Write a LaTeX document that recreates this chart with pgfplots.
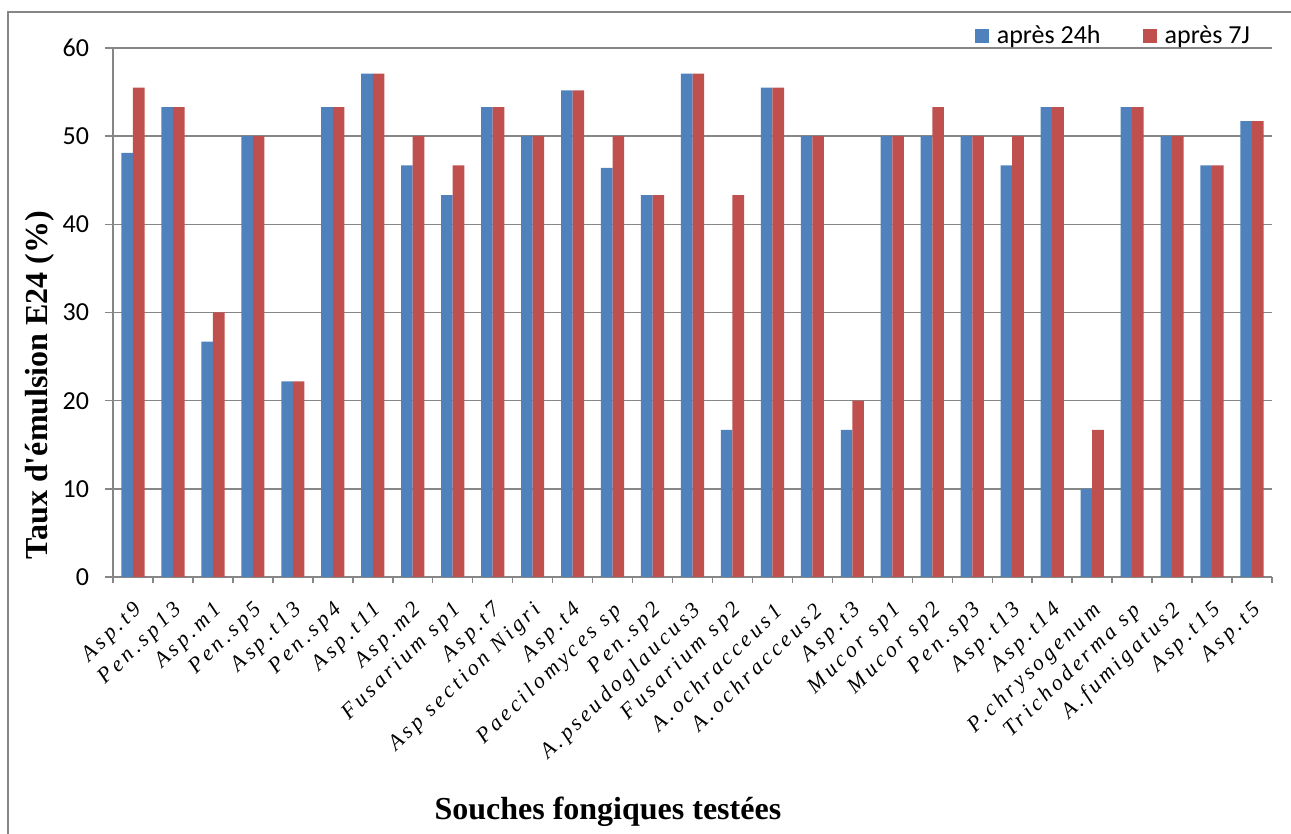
\documentclass[border=0pt]{standalone}
\usepackage{fontspec}
\setmainfont{Carlito}
\newfontfamily\tnr{Liberation Serif}
\newfontfamily\tnrls[LetterSpace=16]{Liberation Serif}
\usepackage{pgfplots}
\pgfplotsset{compat=1.18}
\definecolor{cblue}{HTML}{4F81BD}
\definecolor{cred}{HTML}{C0504D}
\definecolor{cgrid}{HTML}{868686}
\begin{document}
\begin{tikzpicture}
\path[use as bounding box] (0,0) rectangle (645.5pt,417pt);
\draw[cgrid, line width=0.75pt] (4pt,-5pt) -- (4pt,411pt) -- (650pt,411pt);
\begin{axis}[
  at={(56.5pt,128.5pt)}, anchor=south west,
  scale only axis, width=579.5pt, height=264.5pt,
  xmin=-0.5, xmax=28.5, ymin=0, ymax=60,
  ytick={0,10,...,60},
  ymajorgrids, grid style={cgrid, line width=0.75pt},
  axis x line*=bottom, axis y line*=left,
  axis line style={cgrid, line width=0.75pt, -},
  tick style={cgrid, line width=0.75pt},
  tick align=outside,
  major tick length=4pt, minor tick length=3pt,
  xtick={0,...,28},
  major x tick style={draw=none},
  minor xtick={-0.5,0.5,...,28.5},
  xticklabels={Asp.t9,Pen.sp13,Asp.m1,Pen.sp5,Asp.t13,Pen.sp4,Asp.t11,Asp.m2,Fusarium sp1,Asp.t7,Asp section Nigri,Asp.t4,Paecilomyces sp,Pen.sp2,A.pseudoglaucus3,Fusarium sp2,A.ochracceus1,A.ochracceus2,Asp.t3,Mucor sp1,Mucor sp2,Pen.sp3,Asp.t13,Asp.t14,P.chrysogenum,Trichoderma sp,A.fumigatus2,Asp.t15,Asp.t5},
  xticklabel style={font=\tnrls\itshape\fontsize{11}{12}\selectfont, xshift=5.4pt, yshift=-8.9pt, rotate=44, anchor=east},
  yticklabel style={font=\fontsize{13}{15}\selectfont, xshift=-4.5pt},
  /pgf/number format/assume math mode=true,
  ybar=0pt, bar width=0.29,
  ylabel={\tnr\bfseries\fontsize{16}{18}\selectfont Taux d'émulsion E24 (\%)},
  ylabel style={at={(axis description cs:-0.063,0.363)}, anchor=center},
  xlabel={\tnr\bfseries\fontsize{16}{18}\selectfont Souches fongiques testées},
  xlabel style={at={(axis description cs:0.427,-0.444)}, anchor=center},
  legend columns=2,
  legend style={draw=none, fill=none, at={(0.864,1.0227)}, anchor=center,
    font=\fontsize{13}{15}\selectfont,
    /tikz/every odd column/.append style={column sep=2pt},
    /tikz/every even column/.append style={column sep=19pt}},
  legend image code/.code={\fill[#1] (0pt,-3.5pt) rectangle (7pt,3.5pt);},
]
\addplot[fill=cblue, draw=none] coordinates {
(0,48.1) (1,53.3) (2,26.7) (3,50) (4,22.2) (5,53.3) (6,57.1) (7,46.7) (8,43.3) (9,53.3)
(10,50) (11,55.2) (12,46.4) (13,43.3) (14,57.1) (15,16.7) (16,55.5) (17,50) (18,16.7) (19,50)
(20,50) (21,50) (22,46.7) (23,53.3) (24,10) (25,53.3) (26,50) (27,46.7) (28,51.7)};
\addplot[fill=cred, draw=none] coordinates {
(0,55.5) (1,53.3) (2,30) (3,50) (4,22.2) (5,53.3) (6,57.1) (7,50) (8,46.7) (9,53.3)
(10,50) (11,55.2) (12,50) (13,43.3) (14,57.1) (15,43.3) (16,55.5) (17,50) (18,20) (19,50)
(20,53.3) (21,50) (22,50) (23,53.3) (24,16.7) (25,53.3) (26,50) (27,46.7) (28,51.7)};
\legend{après 24h, après 7J}
\end{axis}
\end{tikzpicture}
\end{document}
